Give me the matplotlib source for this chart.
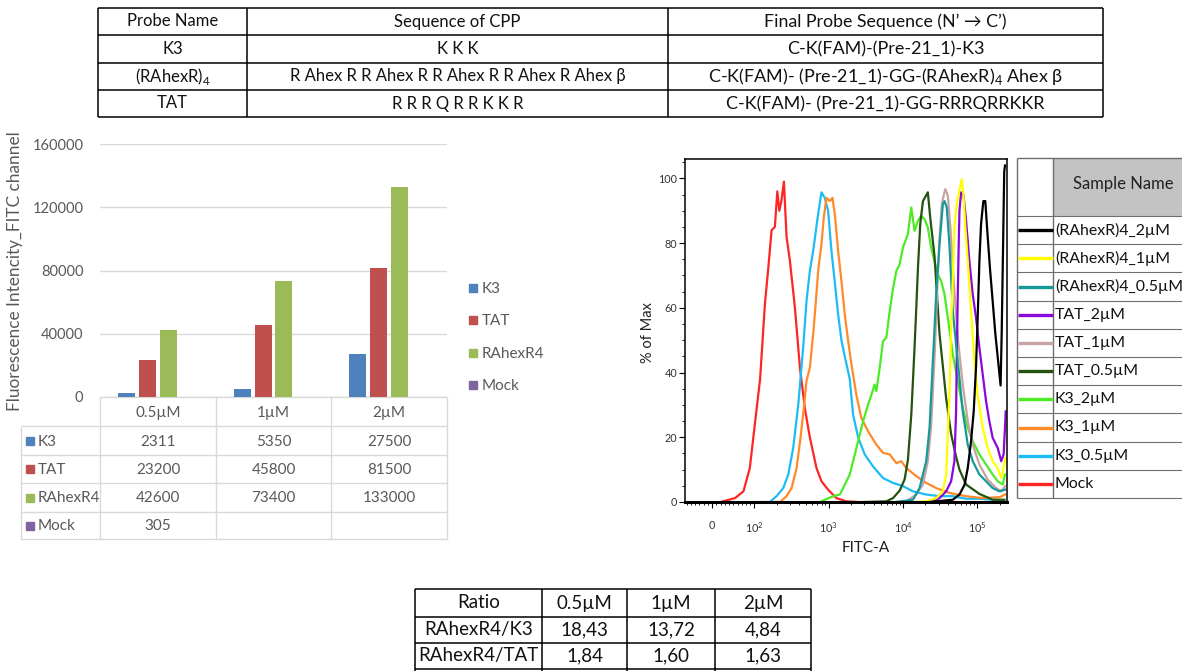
import numpy as np
import matplotlib.pyplot as plt
from matplotlib.patches import Rectangle
from matplotlib.ticker import FixedLocator, NullFormatter

plt.rcParams['font.family'] = ['Lato', 'DejaVu Sans']
plt.rcParams['mathtext.fontset'] = 'custom'
plt.rcParams['mathtext.rm'] = 'Lato'

W, H = 1182, 671
SUB4 = r"$_\mathregular{4}$"

# ─────────────────────────────────────────────
# DATA
# ─────────────────────────────────────────────
# probe table
table_header = ["Probe Name", "Sequence of CPP", "Final Probe Sequence (N’ → C’)"]
probe_names = ["K3", "(RAhexR)" + SUB4, "TAT"]
cpp_sequences = ["K K K",
                 "R Ahex R R Ahex R R Ahex R R Ahex R Ahex β",
                 "R R R Q R R K K R"]
final_sequences = ["C-K(FAM)-(Pre-21_1)-K3",
                   "C-K(FAM)- (Pre-21_1)-GG-(RAhexR)" + SUB4 + " Ahex β",
                   "C-K(FAM)- (Pre-21_1)-GG-RRRQRRKKR"]

# bar chart
concentrations = ["0.5µM", "1µM", "2µM"]
series_names = ["K3", "TAT", "RAhexR4", "Mock"]
k3_vals = [2311, 5350, 27500]
tat_vals = [23200, 45800, 81500]
rahex_vals = [42600, 73400, 133000]
mock_vals = [305, None, None]
bar_values = [k3_vals, tat_vals, rahex_vals, mock_vals]
bar_colors = ["#4F81BD", "#C0504D", "#9BBB59", "#8064A2"]

# ratio table
ratio_header = ["Ratio"] + concentrations
ratio_names = ["RAhexR4/K3", "RAhexR4/TAT"]
ratio_k3 = ["18,43", "13,72", "4,84"]
ratio_tat = ["1,84", "1,60", "1,63"]

# flow histograms (FITC-A value, % of max)
mock_fitc = [20, 54, 74, 89, 100, 119, 138, 153, 170, 188, 203, 216, 230, 249, 270, 300,
             350, 409, 476, 556, 683, 797, 979, 1267, 1727, 2500]
mock_pct = [0, 1.2, 3.3, 10.5, 23, 38, 61, 72, 84, 85, 96, 90, 93, 99, 82, 74.5,
            60, 41.5, 29, 20, 10.5, 6.4, 3.8, 1.2, 0.2, 0]

k3_05_fitc = [120, 161, 198, 244, 285, 332, 388, 452, 501, 556, 616, 670, 719, 797, 884, 979,
              1086, 1204, 1335, 1480, 1640, 1915, 2122, 2482, 3045, 3938, 5370, 7310, 9950,
              13560, 20460, 30890, 46630, 70400, 106300, 160500, 230300]
k3_05_pct = [0, 0, 1.8, 4.3, 8.5, 16.7, 30, 47.7, 62, 71.4, 77.6, 83.8, 89, 95.7, 94, 90,
             77.6, 68, 58, 50, 45, 38, 27, 20, 14.7, 11, 7.4, 5.9, 4.9,
             3.3, 2.3, 1.8, 1.8, 1, 1, 0.7, 0.4]

k3_1_fitc = [180, 220, 270, 316, 369, 417, 461, 501, 556, 616, 670, 719, 797, 857, 931, 1031,
             1120, 1204, 1335, 1480, 1640, 1818, 2017, 2355, 2740, 3370, 4370, 5370, 6600,
             8120, 9460, 11040, 15040, 20460, 27870, 42060, 70400, 117800, 200000, 235000]
k3_1_pct = [0, 0, 1.8, 4.3, 10.5, 20, 29, 37.4, 41.5, 51.8, 62, 71.4, 79.7, 88, 94, 93,
            94, 89, 77.6, 68.3, 58, 50, 42.5, 33, 26, 21.9, 17.7, 15.2, 14.7,
            12, 12.6, 10.5, 8, 5.9, 4.3, 2.8, 1.8, 1.2, 1.5, 2.3]

k3_2_fitc = [757, 1143, 1405, 1560, 1727, 1915, 2122, 2482, 2900, 3370, 3730, 4130, 4370,
             4840, 5370, 5947, 6600, 7310, 8120, 8980, 9950, 11600, 12890, 14270, 15810,
             17530, 19420, 21520, 23860, 26450, 29310, 32480, 36030, 39950, 46630, 54380,
             63490, 74100, 86500, 106300, 130600, 160500, 187600, 219000, 235000]
k3_2_pct = [0, 1.8, 2.3, 4.3, 6.4, 8.5, 12.6, 18.8, 25, 30, 33, 36.3, 34.3,
            41.5, 49.7, 50.8, 59, 66, 71.4, 73.5, 78.6, 82.8, 91, 83.8, 86.9,
            88.4, 87.4, 84.8, 78.6, 74.4, 70.4, 68.3, 64.2, 57, 45.6, 37.4,
            29, 22.9, 18.8, 14.7, 11.6, 8.5, 6.4, 5.4, 8.5]

tat_05_fitc = [3000, 5947, 7310, 8980, 10480, 11600, 12890, 14270, 15040, 15810, 17020, 18480,
               21520, 23150, 26450, 30890, 34250, 37950, 44270, 51620, 57300, 70400, 106300,
               160500, 230300]
tat_05_pct = [0, 0.2, 1.2, 3.5, 7, 13, 27, 48, 60, 72, 86, 93,
              95.7, 88, 76, 52, 42, 32, 21, 14, 10, 5.4, 2.5,
              0.7, 0.7]

tat_1_fitc = [8000, 11040, 15040, 18480, 21520, 23860, 26450, 28740, 30890, 33210, 35300,
              37100, 39950, 43300, 47600, 54380, 63490, 74100, 86500, 106300, 137400, 178600,
              209000, 235000]
tat_1_pct = [0, 0.2, 2.3, 5.4, 12.6, 23.7, 44.5, 65, 81.7, 92, 95,
             96.7, 94.6, 84.8, 69.3, 50.8, 36.3, 25, 17.7, 11.6, 6.9, 4.3,
             3.3, 4.9]

tat_2_fitc = [20000, 25140, 30890, 37950, 44270, 49000, 51620, 52700, 54380, 56000, 57300,
              60300, 64800, 70400, 77900, 86500, 95700, 106300, 117800, 130600, 144600, 160500,
              187600, 209000, 225000, 235000, 240000]
tat_2_pct = [0, 0.2, 1.2, 3.3, 6.4, 12.6, 28, 43.5, 64, 79.7, 90,
             95.7, 95, 86.9, 74.5, 64.2, 57, 47.7, 39.4, 31.2, 25, 19.8,
             16.7, 12.6, 14.7, 23, 28]

ra_05_fitc = [8000, 13560, 16650, 20460, 22680, 25140, 27870, 30890, 34250, 36030, 38720,
              41970, 46630, 54380, 63490, 74100, 86500, 106300, 130600, 160500, 197200, 235000]
ra_05_pct = [0, 0.7, 4.3, 12.6, 22.9, 43.5, 64.2, 79.6, 92, 93, 91,
             79.6, 59, 43.5, 28, 17.7, 12.6, 8.5, 6.4, 4.3, 3.3, 3.8]

ra_1_fitc = [15000, 20460, 27870, 34250, 37950, 41970, 44270, 46630, 49000, 52700, 57300,
             61700, 64800, 68900, 74100, 82100, 90900, 100800, 117800, 137400, 160500, 187600,
             209000, 225000, 238000]
ra_1_pct = [0, 0.2, 1.2, 3.3, 8.5, 33, 54, 69.3, 84.8, 92, 96.3,
            99.8, 95, 84.8, 74.5, 59, 43.5, 33, 22.9, 16.7, 12.6, 10.5,
            7.4, 10.5, 13.6]

ra_2_fitc = [22680, 46630, 57300, 67300, 74100, 82100, 89100, 95700, 100800, 106300, 111900,
             120100, 127600, 137400, 147700, 160500, 174100, 189000, 205000, 212000, 221000,
             229300, 235000]
ra_2_pct = [0, 0.7, 2.3, 5.4, 10.5, 18.8, 28, 41.5, 57, 74.5, 85.9,
            93, 93, 82, 72, 62, 52, 44, 36, 52, 78,
            102, 104]

flow_names = ["(RAhexR)4_2µM", "(RAhexR)4_1µM", "(RAhexR)4_0.5µM", "TAT_2µM", "TAT_1µM",
              "TAT_0.5µM", "K3_2µM", "K3_1µM", "K3_0.5µM", "Mock"]
flow_fitc = [ra_2_fitc, ra_1_fitc, ra_05_fitc, tat_2_fitc, tat_1_fitc,
             tat_05_fitc, k3_2_fitc, k3_1_fitc, k3_05_fitc, mock_fitc]
flow_pct = [ra_2_pct, ra_1_pct, ra_05_pct, tat_2_pct, tat_1_pct,
            tat_05_pct, k3_2_pct, k3_1_pct, k3_05_pct, mock_pct]
flow_colors = ["#000000", "#FFFF00", "#17999A", "#8B08DA", "#C9A3A3",
               "#25520F", "#4CEB24", "#FF8A2A", "#1CBDF6", "#FF2525"]


# ─────────────────────────────────────────────
# HELPERS (pixel layout)
# ─────────────────────────────────────────────
def box(left, top, right, bottom):
    return [left / W, 1 - bottom / H, (right - left) / W, (bottom - top) / H]


fig = plt.figure(figsize=(W / 100, H / 100), dpi=100)
bg = fig.add_axes([0, 0, 1, 1])
bg.set_xlim(0, W)
bg.set_ylim(H, 0)
bg.axis("off")


def hline(y, x0, x1, **kw):
    bg.plot([x0, x1], [y, y], solid_capstyle="butt", **kw)


def vline(x, y0, y1, **kw):
    bg.plot([x, x], [y0, y1], solid_capstyle="butt", **kw)


# ─────────────────────────────────────────────
# TOP TABLE
# ─────────────────────────────────────────────
tcols = [98, 247, 668, 1103]
trows = [8, 35, 63, 90, 117]
col_fs = [12, 12, 13]
for x in tcols:
    vline(x, trows[0], trows[-1], color="k", lw=1.1)
for y in trows:
    hline(y, tcols[0], tcols[-1], color="k", lw=1.1)

table_rows = [table_header] + [list(r) for r in zip(probe_names, cpp_sequences, final_sequences)]
for r, row in enumerate(table_rows):
    yc = (trows[r] + trows[r + 1]) / 2
    for c, txt in enumerate(row):
        xc = (tcols[c] + tcols[c + 1]) / 2
        fs = 12.8 if (r == 0 and c == 2) else col_fs[c]
        bg.text(xc, yc, txt, ha="center", va="center", fontsize=fs, color="#111111")

# ─────────────────────────────────────────────
# BAR CHART
# ─────────────────────────────────────────────
gray_txt = "#595959"
grid_c = "#D9D9D9"

axb = fig.add_axes(box(100, 144, 447, 397))
xpos = np.arange(len(concentrations))
step, bw = 0.1815, 0.147
for i, (vals, c) in enumerate(zip(bar_values, bar_colors)):
    h = np.array([np.nan if v is None else v for v in vals], float)
    axb.bar(xpos + (i - 1.5) * step, h, bw, color=c, zorder=3)
axb.set_xlim(-0.5, 2.5)
axb.set_ylim(0, 160000)
axb.set_yticks([0, 40000, 80000, 120000, 160000])
axb.set_xticks([])
axb.yaxis.grid(True, color=grid_c, lw=1)
axb.set_axisbelow(True)
for s in axb.spines.values():
    s.set_visible(False)
axb.tick_params(axis="y", length=0, pad=12, labelsize=10.5, labelcolor=gray_txt)
axb.patch.set_alpha(0)

bg.text(15, 271, "Fluorescence Intencity_FITC channel", rotation=90, ha="center", va="center",
        fontsize=12.4, color=gray_txt)

# data table under the bars
dcols = [21, 100, 216, 331, 447]
drows = [397, 426, 455, 483, 512, 539]
for x in dcols[1:]:
    vline(x, drows[0], drows[-1], color=grid_c, lw=1)
vline(dcols[0], drows[1], drows[-1], color=grid_c, lw=1)
hline(drows[0], dcols[1], dcols[-1], color=grid_c, lw=1)
for y in drows[1:]:
    hline(y, dcols[0], dcols[-1], color=grid_c, lw=1)

for j, conc in enumerate(concentrations):
    bg.text((dcols[j + 1] + dcols[j + 2]) / 2, (drows[0] + drows[1]) / 2 + 1, conc,
            ha="center", va="center", fontsize=11, color=gray_txt)
for i, (name, vals, c) in enumerate(zip(series_names, bar_values, bar_colors)):
    yc = (drows[i + 1] + drows[i + 2]) / 2
    bg.add_patch(Rectangle((26, yc - 4), 8, 8, color=c))
    bg.text(38, yc + 1, name, ha="left", va="center", fontsize=11, color=gray_txt)
    for j, v in enumerate(vals):
        if v is not None:
            bg.text((dcols[j + 1] + dcols[j + 2]) / 2, yc + 1, str(v),
                    ha="center", va="center", fontsize=11, color=gray_txt)

# bar legend
for i, (name, c) in enumerate(zip(series_names, bar_colors)):
    yc = 288 + i * 32.3
    bg.add_patch(Rectangle((469, yc - 4), 8, 8, color=c))
    bg.text(482, yc + 1, name, ha="left", va="center", fontsize=11, color=gray_txt)

# ─────────────────────────────────────────────
# FLOW HISTOGRAM
# ─────────────────────────────────────────────
axf = fig.add_axes(box(685, 159, 1007, 502))
axf.set_xscale("symlog", linthresh=100, linscale=0.513)
for fx, fy, c in reversed(list(zip(flow_fitc, flow_pct, flow_colors))):
    axf.plot(fx, fy, color=c, lw=1.6)
axf.set_xlim(-64, 250000)
axf.set_ylim(0, 106)

axf.set_xticks([0, 1e2, 1e3, 1e4, 1e5])
axf.set_xticklabels(["0", "$10^2$", "$10^3$", "$10^4$", "$10^5$"])
minor_x = [v for v in range(-60, 100, 10) if v != 0]
minor_x += [k * 10 ** d for d in range(2, 6) for k in range(2, 10) if k * 10 ** d < 250000]
axf.xaxis.set_minor_locator(FixedLocator(minor_x))
axf.xaxis.set_minor_formatter(NullFormatter())
axf.set_yticks([0, 20, 40, 60, 80, 100])
axf.yaxis.set_minor_locator(FixedLocator(np.arange(0, 106, 5)))
axf.tick_params(which="major", direction="out", length=4, width=0.8, labelsize=7.8,
                labelcolor="#333333")
axf.tick_params(axis="x", which="major", pad=9)
axf.tick_params(axis="y", which="major", pad=1.5)
axf.tick_params(which="minor", direction="out", length=2.5, width=0.6)
for s in axf.spines.values():
    s.set_linewidth(1.1)
axf.spines["bottom"].set_linewidth(2.2)
axf.patch.set_alpha(0)

bg.text(648, 333, "% of Max", rotation=90, ha="center", va="center", fontsize=10.5, color="#222222")
bg.text(866, 548, "FITC-A", ha="center", va="center", fontsize=11, color="#222222")

# legend table
lx0, lx1, lx2 = 1017, 1053, 1190
ly_head0, ly_head1 = 158, 216
row_h = 28.2
lrows = [ly_head1 + i * row_h for i in range(len(flow_names) + 1)]
bg.add_patch(Rectangle((lx1, ly_head0), lx2 - lx1, ly_head1 - ly_head0, color="#C3C3C3", lw=0))
line_c = "#6E6E6E"
vline(lx0, ly_head0, lrows[-1], color=line_c, lw=1)
vline(lx1, ly_head0, lrows[-1], color=line_c, lw=1)
hline(ly_head0, lx0, lx2, color=line_c, lw=1)
for y in lrows:
    hline(y, lx0, lx2, color=line_c, lw=0.8)
bg.text(1123, 184, "Sample Name", ha="center", va="center", fontsize=12, color="#222222")
for i, (name, c) in enumerate(zip(flow_names, flow_colors)):
    yc = (lrows[i] + lrows[i + 1]) / 2
    hline(yc, lx0 + 1, lx1, color=c, lw=2.4)
    bg.text(lx1 + 2, yc, name, ha="left", va="center", fontsize=11.4, color="#111111")

# ─────────────────────────────────────────────
# RATIO TABLE
# ─────────────────────────────────────────────
rcols = [415, 542, 627, 715, 811]
rrows = [589, 617, 643, 669]
for x in rcols:
    vline(x, rrows[0], H, color="k", lw=1.1)
for y in rrows:
    hline(y, rcols[0], rcols[-1], color="k", lw=1.1)
ratio_rows = [ratio_header, [ratio_names[0]] + ratio_k3, [ratio_names[1]] + ratio_tat]
for r, row in enumerate(ratio_rows):
    yc = (rrows[r] + rrows[r + 1]) / 2
    for c, txt in enumerate(row):
        bg.text((rcols[c] + rcols[c + 1]) / 2, yc, txt, ha="center", va="center",
                fontsize=13.5, color="#111111")

fig.savefig("out.png", dpi=100)
